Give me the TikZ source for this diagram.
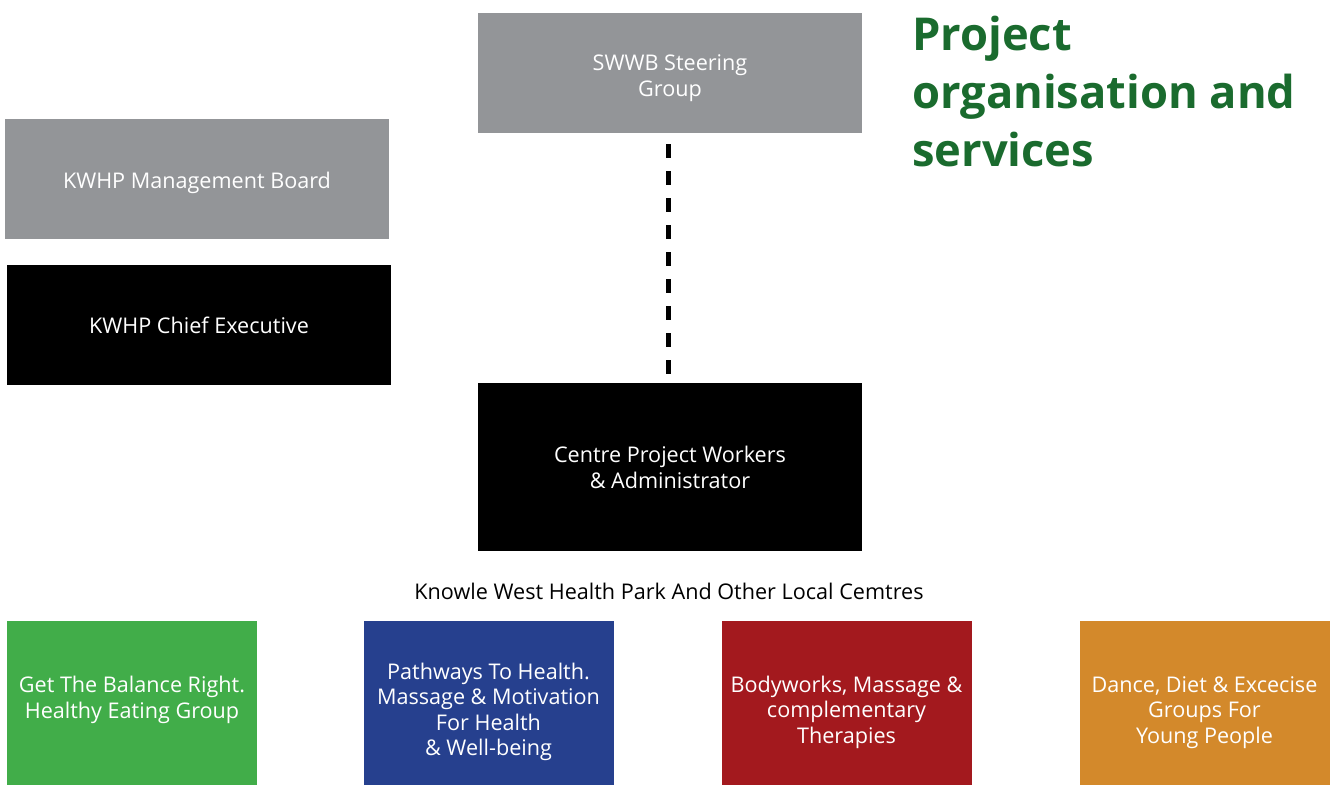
\documentclass[tikz,border=0pt]{standalone}
\usepackage{fontspec}
\setmainfont{Open Sans}
\definecolor{boxgrey}{HTML}{939598}
\definecolor{cgreen}{HTML}{41AD49}
\definecolor{cblue}{HTML}{26408E}
\definecolor{cred}{HTML}{A3191E}
\definecolor{corange}{HTML}{D3892B}
\definecolor{titlegreen}{HTML}{1A6B2E}
\newcommand{\topstrut}[1]{\rule{0pt}{#1}}
\begin{document}
\begin{tikzpicture}[x=1pt,y=1pt,
  orgbox/.style={rectangle, inner sep=0pt, text=white, align=center,
    font=\fontsize{21.6}{26}\selectfont},
  wide/.style={orgbox, minimum width=384pt, minimum height=120pt},
  svc/.style={orgbox, minimum width=250pt, minimum height=164pt,
    font=\fontsize{21.6}{25.5}\selectfont},
  textdown/.style={execute at begin node={\rule{0pt}{#1}}},
  textup/.style={execute at end node={\rule[-#1]{0pt}{#1}}},
  dashlink/.style={line width=5pt, dash pattern=on 14pt off 13pt}
]
\useasboundingbox (0,0) rectangle (1338,785);
\node[wide, fill=boxgrey] (swwb) at (670,712) {\topstrut{26.5pt}SWWB Steering\\Group};
\node[wide, fill=boxgrey, textdown=24.5pt] (board) at (197,606) {KWHP Management Board};
\node[wide, fill=black] (ceo) at (199,460) {KWHP Chief Executive};
\node[wide, fill=black, minimum height=168pt] (centre) at (670,318) {Centre Project Workers\\\& Administrator};
\node[font=\fontsize{21.6}{24}\selectfont, inner sep=0pt] (local) at (669,194) {Knowle West Health Park And Other Local Cemtres};
\node[svc, fill=cgreen, textup=11.2pt] (s1) at (132,82) {Get The Balance Right.\\Healthy Eating Group};
\node[svc, fill=cblue] (s2) at (488.5,82) {\topstrut{34.5pt}Pathways To Health.\\Massage \& Motivation\\For Health\\\& Well-being};
\node[svc, fill=cred] (s3) at (846.5,82) {\topstrut{34.5pt}Bodyworks, Massage \&\\complementary\\Therapies};
\node[svc, fill=corange] (s4) at (1204.5,82) {\topstrut{34.5pt}Dance, Diet \& Excecise\\Groups For\\Young People};
\node[anchor=north west, align=left, text=titlegreen, inner sep=0pt,
  font=\fontsize{45.3}{58}\bfseries\selectfont] (title) at (912,769) {Project\\organisation and\\services};
\draw[dashlink, shorten <=11pt, shorten >=6pt] ([xshift=-2pt]swwb.south) -- ([xshift=-2pt]centre.north);
\end{tikzpicture}
\end{document}
